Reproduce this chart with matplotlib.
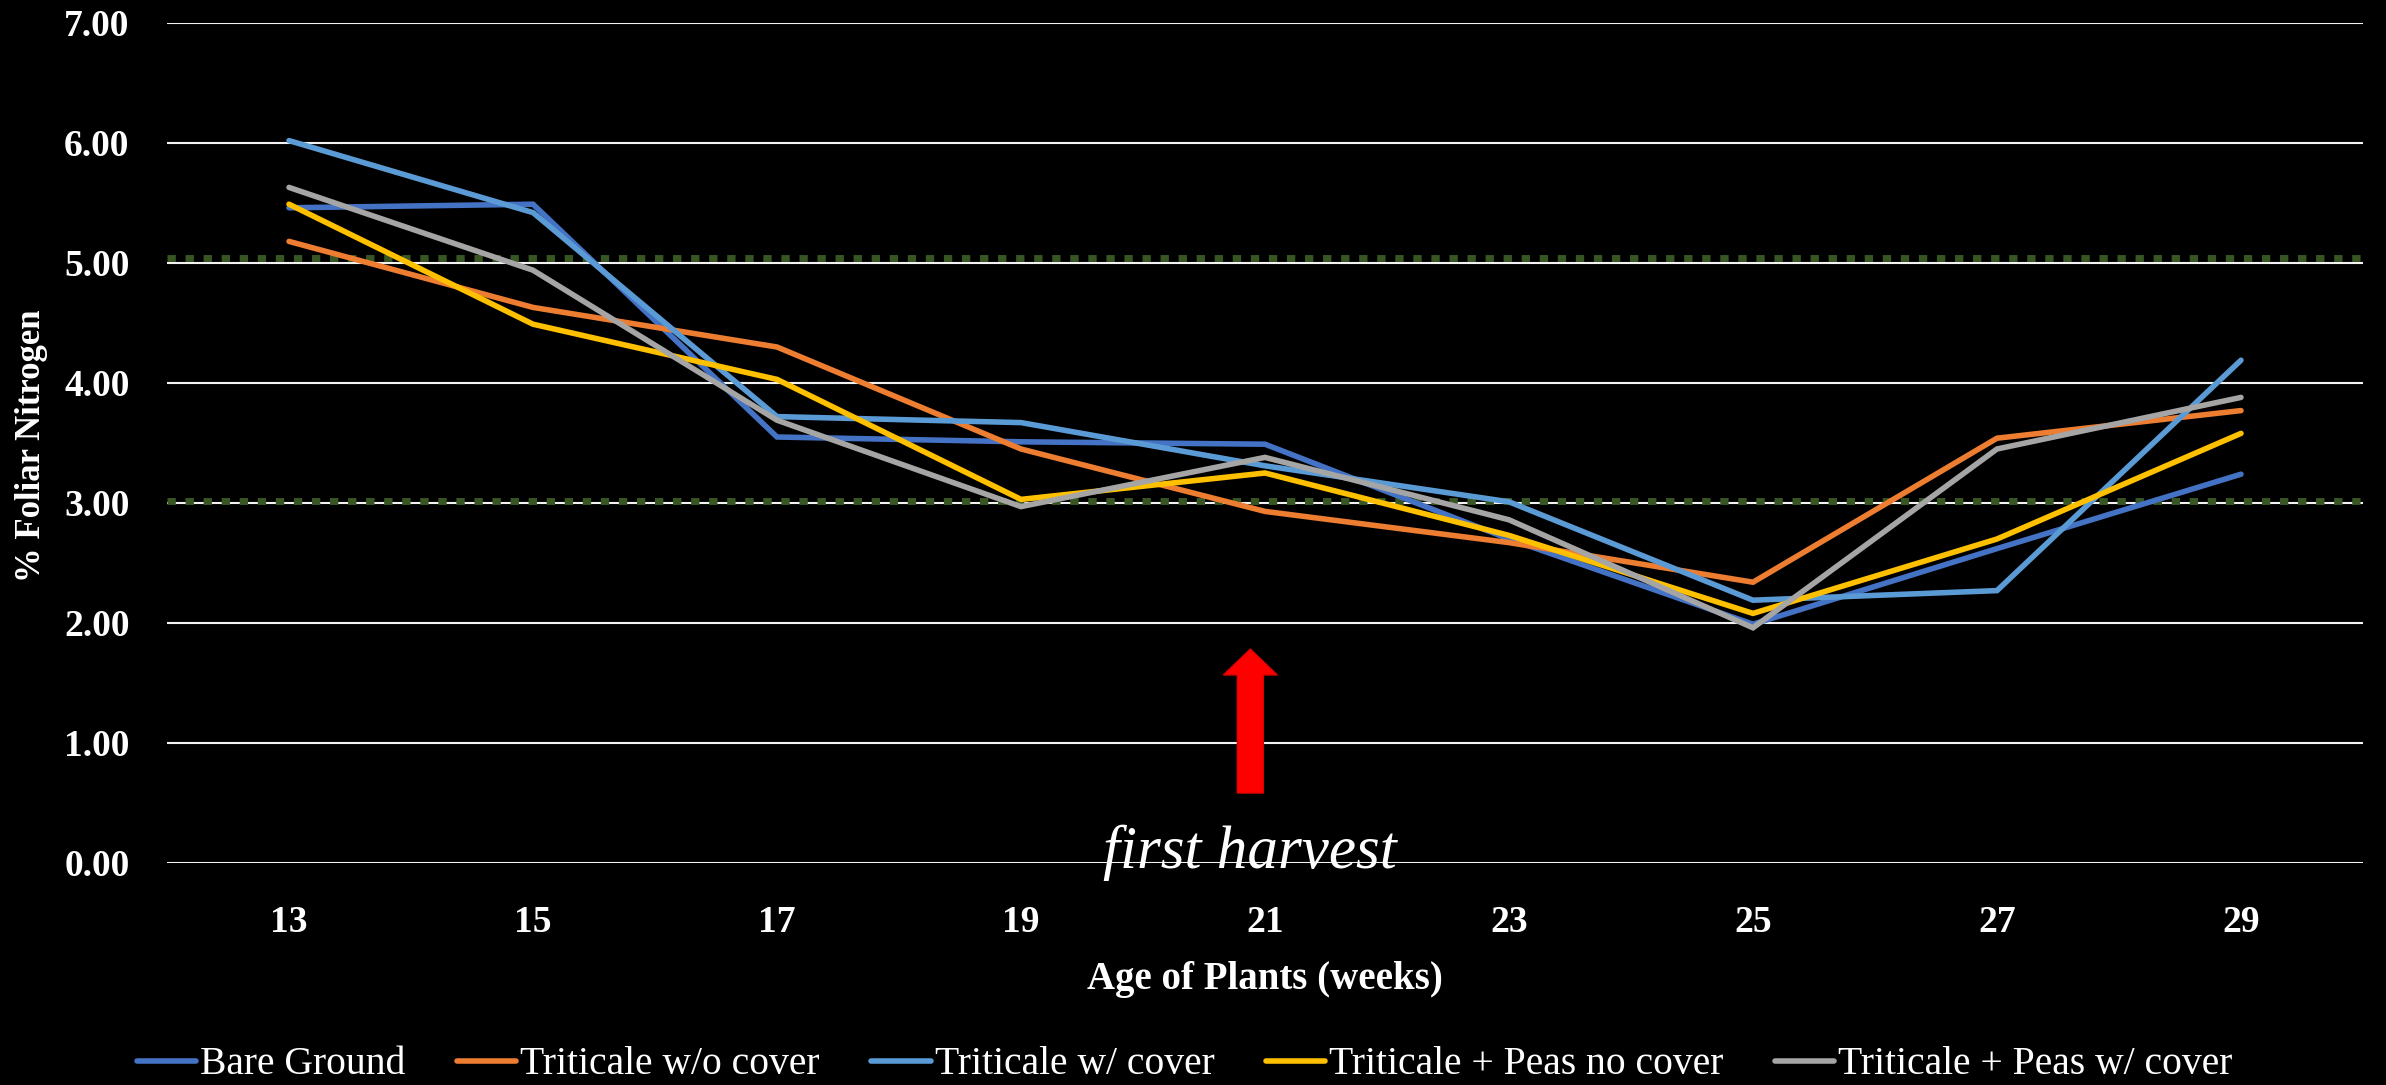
import matplotlib
matplotlib.use("Agg")
import matplotlib.pyplot as plt
from matplotlib.patches import FancyArrow
from matplotlib.lines import Line2D

# data
weeks = [13, 15, 17, 19, 21, 23, 25, 27, 29]
bare_ground = [5.46, 5.49, 3.55, 3.51, 3.49, 2.70, 1.99, 2.62, 3.24]
trit_no_cover = [5.18, 4.63, 4.30, 3.45, 2.93, 2.67, 2.34, 3.54, 3.77]
trit_cover = [6.02, 5.42, 3.72, 3.67, 3.31, 3.01, 2.19, 2.27, 4.19]
peas_no_cover = [5.49, 4.49, 4.03, 3.03, 3.25, 2.73, 2.08, 2.70, 3.58]
peas_cover = [5.63, 4.94, 3.69, 2.97, 3.38, 2.86, 1.96, 3.45, 3.88]

labels = ["Bare Ground", "Triticale w/o cover", "Triticale w/ cover",
          "Triticale + Peas no cover", "Triticale + Peas w/ cover"]
colors = ["#4472C4", "#ED7D31", "#5B9BD5", "#FFC000", "#A5A5A5"]
series = [bare_ground, trit_no_cover, trit_cover, peas_no_cover, peas_cover]

ref_lines = [5.04, 3.02]
yticks = [0, 1, 2, 3, 4, 5, 6, 7]
harvest_week = 20.88

plt.rcParams["font.family"] = ["Liberation Serif", "DejaVu Serif"]

fig = plt.figure(figsize=(23.86, 10.85), dpi=100, facecolor="black")
ax = fig.add_axes([167 / 2386, 222 / 1085, 2196 / 2386, 840 / 1085])
ax.set_facecolor("black")

for y in yticks:
    ax.axhline(y, color="#F2F2F2", lw=1.5, zorder=1)

for y in ref_lines:
    ax.axhline(y, color="#375623", lw=5, ls=(0, (1.2, 1.4)),
               dash_capstyle="butt", zorder=2)

for vals, c, lab in zip(series, colors, labels):
    ax.plot(weeks, vals, color=c, lw=4, label=lab,
            solid_capstyle="round", solid_joinstyle="miter", zorder=3)

ax.set_xlim(12, 30)
ax.set_ylim(0, 7)
for s in ax.spines.values():
    s.set_visible(False)

ax.set_xticks(weeks)
ax.set_xticklabels([str(w) for w in weeks])
ax.set_yticks(yticks)
ax.set_yticklabels(["%.2f" % y for y in yticks])
ax.tick_params(axis="both", length=0, colors="white", labelsize=27)
ax.tick_params(axis="x", pad=30)
ax.tick_params(axis="y", pad=27)
for t in ax.get_xticklabels() + ax.get_yticklabels():
    t.set_fontweight("bold")

# first harvest marker
arrow = FancyArrow(harvest_week, 0.583, 0, 1.2, width=0.213, head_width=0.442,
                   head_length=0.216, length_includes_head=True,
                   facecolor="#FF0000", edgecolor="#E00000", lw=1, zorder=4)
ax.add_patch(arrow)
ax.text(harvest_week, -0.04, "first harvest", color="white", fontsize=44,
        style="italic", ha="center", va="baseline", zorder=5)

fig.text(1265 / 2386, 1 - 979 / 1085, "Age of Plants (weeks)", color="white",
         fontsize=28, fontweight="bold", ha="center", va="center")
fig.text(32 / 2386, 1 - 446 / 1085, "% Foliar Nitrogen", color="white",
         fontsize=25, fontweight="bold", rotation=90, ha="center", va="center")

leg_handles = [Line2D([0], [0], color=c, lw=4, solid_capstyle="round") for c in colors]
fig.legend(leg_handles, labels, loc="center", bbox_to_anchor=(0.4966, 1 - 1065 / 1085),
           ncol=5, frameon=False, fontsize=28.5, labelcolor="white",
           handlelength=1.5, handletextpad=0.1, columnspacing=1.3)

fig.savefig("out.png", dpi=100, facecolor="black")
